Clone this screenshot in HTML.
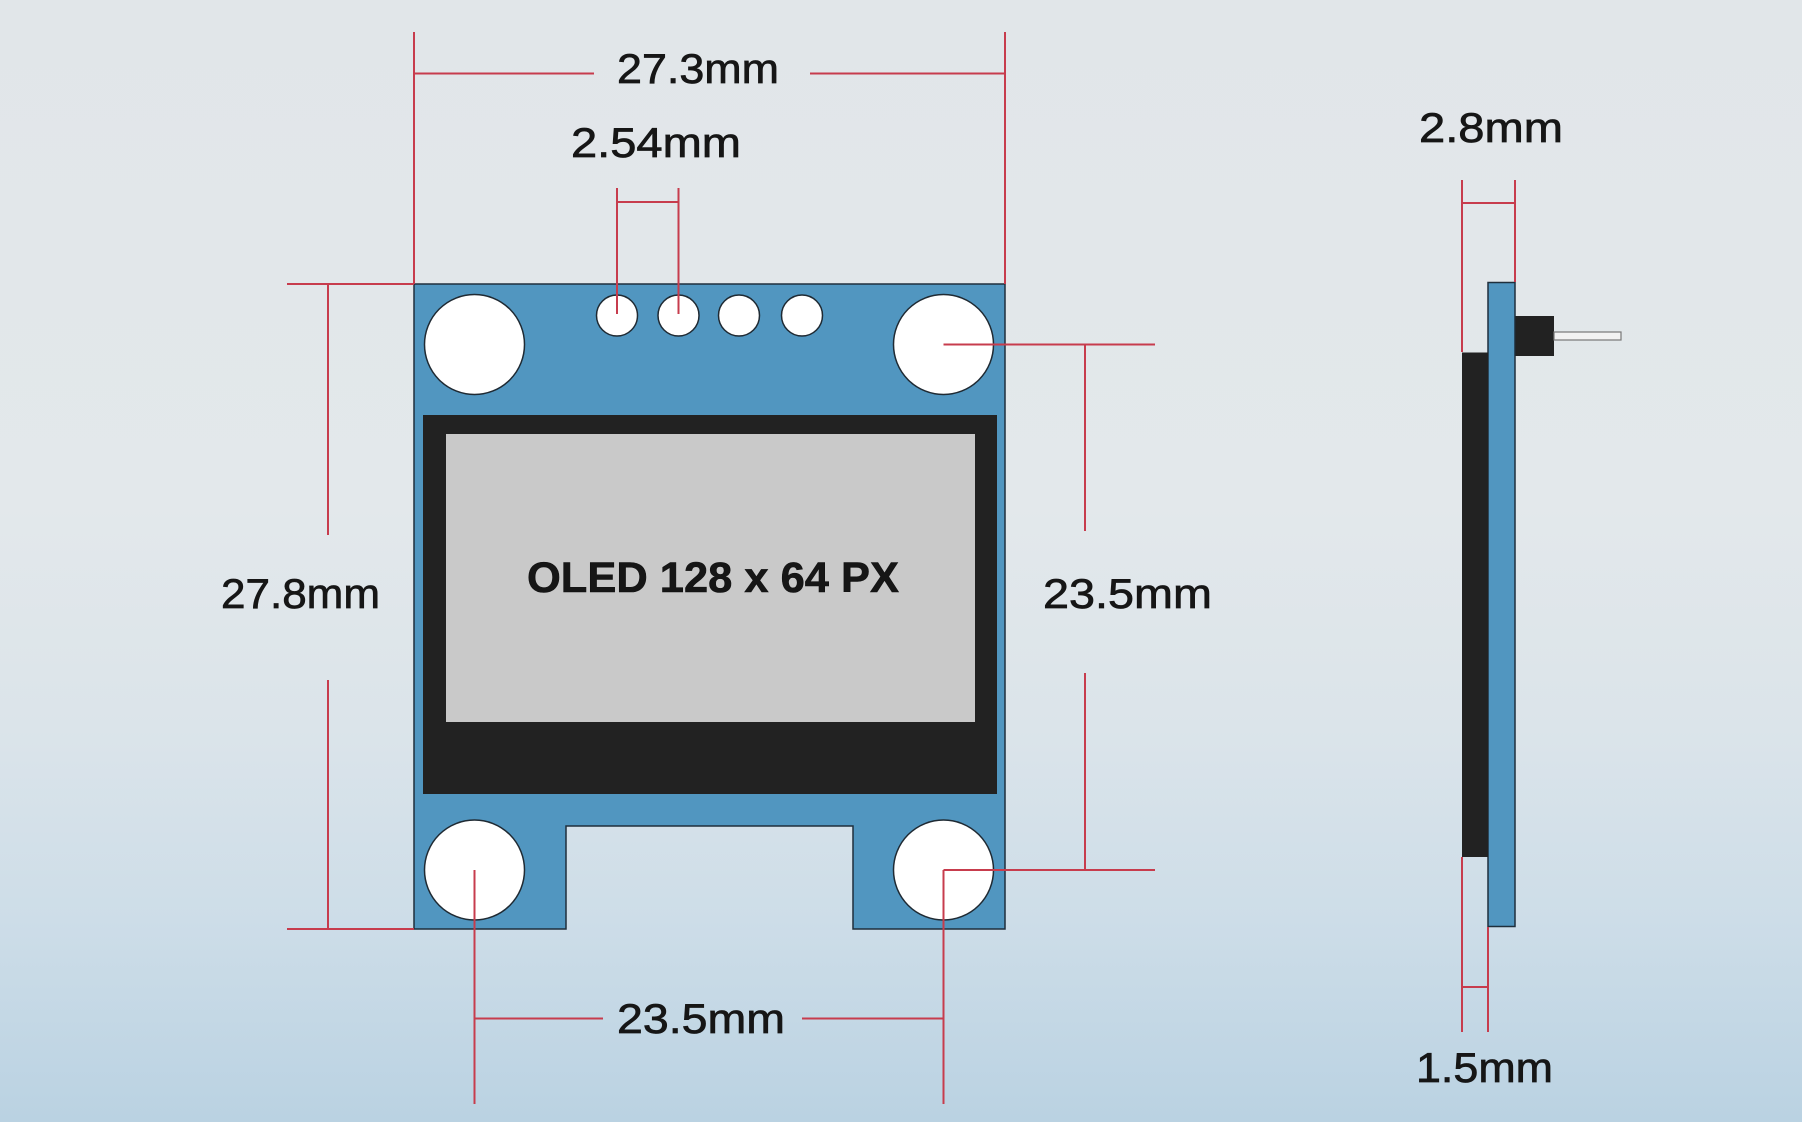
<!DOCTYPE html>
<html>
<head>
<meta charset="utf-8">
<style>
  html,body{margin:0;padding:0;}
  body{width:1802px;height:1122px;overflow:hidden;
    background:linear-gradient(to bottom,#e1e6e9 0%,#e3e8eb 45%,#dbe4ea 65%,#cddde8 82%,#bad2e2 100%);}
  svg{display:block;}
  text{font-family:"Liberation Sans",Arial,sans-serif;fill:#161616;}
</style>
</head>
<body>
<svg width="1802" height="1122" viewBox="0 0 1802 1122" xmlns="http://www.w3.org/2000/svg">
  <!-- PCB front -->
  <path d="M414,284 L1005,284 L1005,929 L853,929 L853,826 L566,826 L566,929 L414,929 Z" fill="#5196c0" stroke="#1f2f3c" stroke-width="1.5"/>
  <!-- display -->
  <rect x="423" y="415" width="574" height="379" fill="#222222"/>
  <rect x="446" y="434" width="529" height="288" fill="#c9c9c9"/>
  <text x="527" y="592" font-size="43" font-weight="bold" textLength="372" lengthAdjust="spacingAndGlyphs" stroke="#111" stroke-width="0.6">OLED 128 x 64 PX</text>
  <!-- mounting holes -->
  <g fill="#ffffff" stroke="#1f2a33" stroke-width="1.5">
    <circle cx="474.5" cy="344.5" r="50"/>
    <circle cx="943.5" cy="344.5" r="50"/>
    <circle cx="474.5" cy="870" r="50"/>
    <circle cx="943.5" cy="870" r="50"/>
    <circle cx="617" cy="315.5" r="20.5"/>
    <circle cx="678.5" cy="315.5" r="20.5"/>
    <circle cx="739" cy="315.5" r="20.5"/>
    <circle cx="802" cy="315.5" r="20.5"/>
  </g>

  <!-- side view -->
  <rect x="1488" y="282.5" width="27" height="644" fill="#5196c0" stroke="#1f2f3c" stroke-width="1.5"/>
  <rect x="1462" y="352.5" width="26" height="504.5" fill="#222222"/>
  <rect x="1515.5" y="316" width="38.5" height="40" fill="#222222"/>
  <rect x="1554" y="332" width="67" height="8" fill="#f2f2f2" stroke="#777" stroke-width="1.2"/>

  <!-- dimension lines -->
  <g stroke="#c73c4d" stroke-width="2" fill="none">
    <!-- 27.3mm -->
    <line x1="414" y1="32" x2="414" y2="284"/>
    <line x1="1005" y1="32" x2="1005" y2="284"/>
    <line x1="414" y1="73.5" x2="594" y2="73.5"/>
    <line x1="810" y1="73.5" x2="1005" y2="73.5"/>
    <!-- 2.54mm -->
    <line x1="617" y1="188" x2="617" y2="314"/>
    <line x1="678.5" y1="188" x2="678.5" y2="314"/>
    <line x1="617" y1="202" x2="678.5" y2="202"/>
    <!-- 27.8mm -->
    <line x1="287" y1="284" x2="414" y2="284"/>
    <line x1="287" y1="929" x2="414" y2="929"/>
    <line x1="328" y1="284" x2="328" y2="535"/>
    <line x1="328" y1="680" x2="328" y2="929"/>
    <!-- 23.5mm right -->
    <line x1="943.5" y1="344.5" x2="1155" y2="344.5"/>
    <line x1="943.5" y1="870" x2="1155" y2="870"/>
    <line x1="1085" y1="344.5" x2="1085" y2="531"/>
    <line x1="1085" y1="673" x2="1085" y2="870"/>
    <!-- 23.5mm bottom -->
    <line x1="474.5" y1="870" x2="474.5" y2="1104"/>
    <line x1="943.5" y1="870" x2="943.5" y2="1104"/>
    <line x1="474.5" y1="1018.5" x2="603" y2="1018.5"/>
    <line x1="802" y1="1018.5" x2="943.5" y2="1018.5"/>
    <!-- 2.8mm -->
    <line x1="1462" y1="180" x2="1462" y2="352"/>
    <line x1="1515" y1="180" x2="1515" y2="282"/>
    <line x1="1462" y1="203" x2="1515" y2="203"/>
    <!-- 1.5mm -->
    <line x1="1462" y1="857" x2="1462" y2="1032"/>
    <line x1="1488" y1="927" x2="1488" y2="1032"/>
    <line x1="1462" y1="987" x2="1488" y2="987"/>
  </g>

  <!-- labels -->
  <g font-size="42" stroke="#161616" stroke-width="0.7">
    <text x="617" y="83" textLength="162" lengthAdjust="spacingAndGlyphs">27.3mm</text>
    <text x="571" y="157" textLength="170" lengthAdjust="spacingAndGlyphs">2.54mm</text>
    <text x="221" y="608" textLength="159" lengthAdjust="spacingAndGlyphs">27.8mm</text>
    <text x="1043" y="608" textLength="169" lengthAdjust="spacingAndGlyphs">23.5mm</text>
    <text x="617" y="1033" textLength="168" lengthAdjust="spacingAndGlyphs">23.5mm</text>
    <text x="1419" y="142" textLength="144" lengthAdjust="spacingAndGlyphs">2.8mm</text>
    <text x="1416" y="1082" textLength="137" lengthAdjust="spacingAndGlyphs">1.5mm</text>
  </g>
</svg>
</body>
</html>
